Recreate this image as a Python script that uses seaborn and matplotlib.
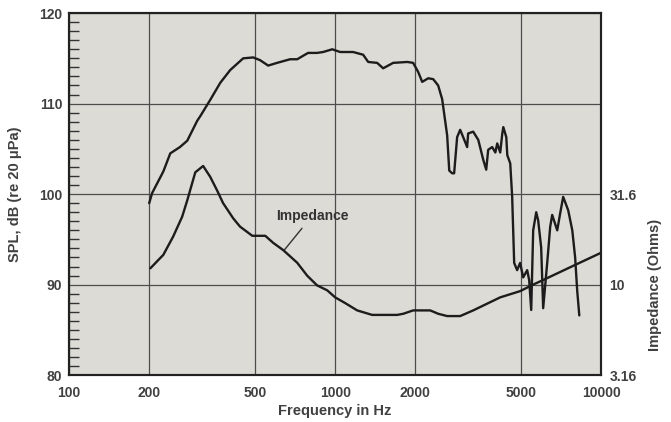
import numpy as np
import pandas as pd
import seaborn as sns
from matplotlib import pyplot as plt
from matplotlib.ticker import FixedLocator, NullLocator, MultipleLocator

# SPL response (Hz, dB re 20 uPa)
spl_freq = [200, 205, 226, 240, 261, 278, 303, 311, 339, 370, 403, 451, 492, 522,
            560, 605, 677, 720, 791, 855, 901, 975, 1044, 1168, 1274, 1331, 1438,
            1515, 1652, 1866, 1964, 2051, 2124, 2238, 2336, 2439, 2524, 2636, 2684,
            2753, 2800, 2874, 2950, 3028, 3134, 3161, 3302, 3450, 3602, 3696, 3760,
            3892, 4000, 4066, 4172, 4248, 4286, 4397, 4436, 4550, 4627, 4668, 4708,
            4830, 4956, 5090, 5269, 5361, 5456, 5550, 5698, 5795, 5947, 6051, 6266,
            6431, 6542, 6834, 7013, 7195, 7517, 7785, 7980, 8125, 8272]
spl_db = [99.0, 100.1, 102.5, 104.5, 105.2, 105.9, 108.1, 108.6, 110.4, 112.3, 113.7,
          115.0, 115.1, 114.8, 114.2, 114.5, 114.9, 114.9, 115.6, 115.6, 115.7, 116.0,
          115.7, 115.7, 115.4, 114.6, 114.5, 113.9, 114.5, 114.6, 114.5, 113.5, 112.4,
          112.8, 112.7, 112.0, 110.5, 106.5, 102.6, 102.3, 102.3, 106.3, 107.1, 106.3,
          105.2, 106.7, 106.9, 106.0, 103.8, 102.7, 104.9, 105.2, 104.6, 105.6, 104.6,
          106.7, 107.4, 106.3, 104.3, 103.4, 99.7, 96.0, 92.4, 91.6, 92.4, 90.8, 91.6,
          90.5, 87.2, 96.0, 98.0, 97.1, 94.1, 87.4, 92.4, 96.4, 97.7, 96.0, 97.9, 99.7,
          98.2, 96.0, 93.0, 89.3, 86.6]

# impedance (Hz, Ohms)
imp_freq = [202, 226, 246, 266, 278, 298, 319, 339, 360, 379, 414, 439, 488, 546,
            585, 638, 720, 785, 855, 933, 1000, 1091, 1210, 1377, 1711, 1803, 1964,
            2276, 2439, 2636, 2950, 3302, 4172, 4956, 5550, 6051, 7852, 10000]
imp_ohms = [12.3, 14.6, 18.4, 23.7, 29.2, 41.7, 45.2, 39.4, 33.1, 28.2, 23.2, 20.9,
            18.6, 18.6, 17.0, 15.5, 13.2, 11.2, 9.9, 9.3, 8.5, 7.9, 7.2, 6.8, 6.8, 6.9,
            7.2, 7.2, 6.9, 6.7, 6.7, 7.2, 8.5, 9.2, 10.0, 10.6, 12.7, 15.0]

x_ticks = [100, 200, 500, 1000, 2000, 5000, 10000]
imp_ticks = [3.16, 10, 31.6]

spl = pd.DataFrame({"freq": spl_freq, "db": spl_db})
imp = pd.DataFrame({"freq": imp_freq, "ohms": imp_ohms})

sns.set_style("ticks")
plt.rcParams["font.family"] = ["Liberation Sans", "DejaVu Sans"]
plt.rcParams["font.weight"] = "bold"
plt.rcParams["axes.labelweight"] = "bold"

line_col = "#1c1c1c"
grid_col = "#4d4d4d"
text_col = "#404040"

fig, ax = plt.subplots(figsize=(6.71, 4.22), dpi=100)
fig.subplots_adjust(left=0.103, right=0.896, bottom=0.111, top=0.969)
ax.set_facecolor("#dcdbd6")

sns.lineplot(data=spl, x="freq", y="db", ax=ax, color=line_col, linewidth=1.7,
             estimator=None, sort=False)

ax.set_xscale("log")
ax.set_xlim(100, 10000)
ax.set_ylim(80, 120)
ax.xaxis.set_major_locator(FixedLocator(x_ticks))
ax.xaxis.set_minor_locator(NullLocator())
ax.set_xticklabels([str(t) for t in x_ticks])
ax.yaxis.set_major_locator(MultipleLocator(10))
ax.yaxis.set_minor_locator(MultipleLocator(1))
ax.grid(True, which="major", color=grid_col, linewidth=0.9)
ax.tick_params(axis="x", which="both", length=0, pad=8, labelsize=10,
               labelcolor=text_col)
ax.tick_params(axis="y", which="major", length=0, pad=5, labelsize=10,
               labelcolor=text_col)
ax.tick_params(axis="y", which="minor", direction="in", length=7, width=1,
               color="#333333")
for s in ax.spines.values():
    s.set_linewidth(1.5)
    s.set_color("#222222")

ax.set_xlabel("Frequency in Hz", fontsize=10.5, labelpad=3, color=text_col)
ax.set_ylabel("SPL, dB (re 20 \u03bcPa)", fontsize=10.5, color=text_col)
ax.yaxis.set_label_coords(-0.088, 0.5)

ax.annotate("Impedance", xy=(643, 93.8), xytext=(819, 97.6), fontsize=10,
            fontweight="bold", color="#333333", ha="center", va="center",
            arrowprops=dict(arrowstyle="-", color="#333333", lw=1.0, shrinkB=0))

ax2 = ax.twinx()
ax2.set_yscale("log")
sns.lineplot(data=imp, x="freq", y="ohms", ax=ax2, color=line_col, linewidth=1.7,
             estimator=None, sort=False)
ax2.set_ylim(3.16, 316)
ax2.yaxis.set_major_locator(FixedLocator(imp_ticks))
ax2.yaxis.set_minor_locator(NullLocator())
ax2.set_yticklabels([str(t) for t in imp_ticks])
ax2.tick_params(axis="y", length=0, pad=6, labelsize=10, labelcolor=text_col)
ax2.grid(False)
ax2.set_ylabel("Impedance (Ohms)", fontsize=10.5, color=text_col)
ax2.yaxis.set_label_coords(1.088, 0.25)
for s in ax2.spines.values():
    s.set_linewidth(1.5)
    s.set_color("#222222")

fig.savefig("out.png", dpi=100)
